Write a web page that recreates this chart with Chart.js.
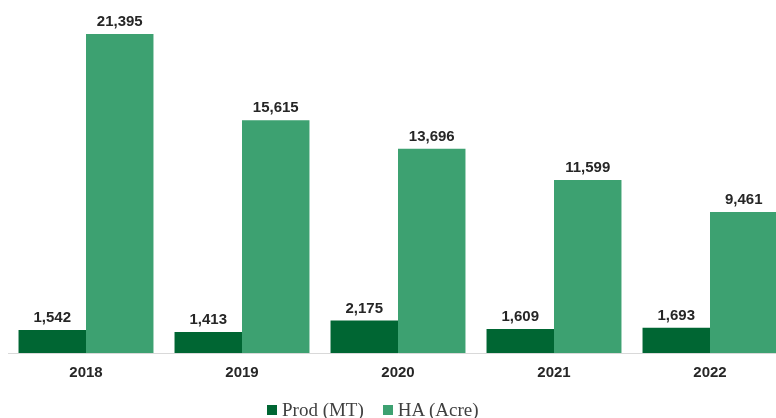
<!DOCTYPE html>
<html>
<head>
<meta charset="utf-8">
<script src="https://cdn.jsdelivr.net/npm/chart.js@4"></script>
<style>
  html, body { margin: 0; padding: 0; overflow: hidden; background: #fff; width: 776px; height: 418px; }
  #wrap { position: relative; width: 796px; height: 418px; }
  #legend { position: absolute; left: 267px; top: 400px; display: flex; align-items: center;
            font: 19px "Liberation Serif", serif; line-height: 19px; color: #404040; white-space: nowrap; }
  #legend .item { display: flex; align-items: center; margin-right: 19px; }
  #legend .box { width: 10px; height: 10px; margin-right: 5px; }
</style>
</head>
<body>
<div id="wrap">
  <canvas id="c" width="796" height="418"></canvas>
  <div id="legend"></div>
</div>
<script>
const categories = ["2018", "2019", "2020", "2021", "2022"];
const prodMT = [1542, 1413, 2175, 1609, 1693];
const haAcre = [21395, 15615, 13696, 11599, 9461];
const seriesNames = ["Prod (MT)", "HA (Acre)"];
const seriesColors = ["#006633", "#3da171"];

const fmt = v => v.toLocaleString("en-US");

const valueLabels = {
  id: "valueLabels",
  afterDatasetsDraw(chart) {
    const ctx = chart.ctx;
    ctx.save();
    ctx.font = "bold 15px 'Liberation Sans', Arial, sans-serif";
    ctx.fillStyle = "#262626";
    ctx.textAlign = "center";
    ctx.textBaseline = "alphabetic";
    chart.data.datasets.forEach((ds, i) => {
      chart.getDatasetMeta(i).data.forEach((el, j) => {
        ctx.fillText(fmt(ds.data[j]), el.x, el.y - 8);
      });
    });
    ctx.restore();
  }
};

const chart = new Chart(document.getElementById("c"), {
  type: "bar",
  data: {
    labels: categories,
    datasets: [
      { label: seriesNames[0], data: prodMT, backgroundColor: seriesColors[0] },
      { label: seriesNames[1], data: haAcre, backgroundColor: seriesColors[1] }
    ]
  },
  options: {
    responsive: false,
    animation: false,
    devicePixelRatio: 1,
    layout: { padding: { left: 8, right: 8, top: 0, bottom: 0 } },
    datasets: { bar: { categoryPercentage: 0.865, barPercentage: 1.0 } },
    plugins: { legend: { display: false }, tooltip: { enabled: false } },
    scales: {
      x: {
        grid: { display: false, drawTicks: false },
        border: { display: true, color: "#d9d9d9", width: 1 },
        ticks: { padding: 11, color: "#262626", font: { family: "'Liberation Sans', Arial, sans-serif", size: 15, weight: "bold" } },
        afterFit: s => { s.height = 65; }
      },
      y: { display: false, min: 0, max: 23675 }
    }
  },
  plugins: [valueLabels]
});

const legend = document.getElementById("legend");
chart.data.datasets.forEach(ds => {
  const item = document.createElement("div");
  item.className = "item";
  const box = document.createElement("span");
  box.className = "box";
  box.style.background = ds.backgroundColor;
  const txt = document.createElement("span");
  txt.textContent = ds.label;
  item.appendChild(box);
  item.appendChild(txt);
  legend.appendChild(item);
});
</script>
</body>
</html>
